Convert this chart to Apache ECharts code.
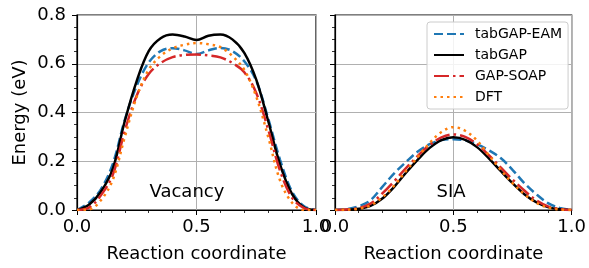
<!DOCTYPE html>
<html>
<head>
<meta charset="utf-8">
<script src="https://cdn.jsdelivr.net/npm/echarts@6/dist/echarts.min.js"></script>
<style>
  html, body { margin: 0; padding: 0; background: #fff; }
</style>
</head>
<body>
<div id="chart" style="width:589px;height:268px;"></div>
<script>
// reaction coordinate samples
var xs = [0, 0.05, 0.1, 0.15, 0.2, 0.25, 0.3, 0.35, 0.4, 0.45, 0.5,
          0.55, 0.6, 0.65, 0.7, 0.75, 0.8, 0.85, 0.9, 0.95, 1.0];

// vacancy migration (eV)
var vacEam  = [0, 0.03, 0.085, 0.19, 0.37, 0.51, 0.605, 0.652, 0.664, 0.655, 0.64,
               0.655, 0.665, 0.652, 0.61, 0.53, 0.375, 0.205, 0.075, 0.015, 0];
var vacTab  = [0, 0.022, 0.075, 0.17, 0.365, 0.53, 0.652, 0.705, 0.72, 0.712, 0.697,
               0.715, 0.72, 0.70, 0.645, 0.535, 0.365, 0.185, 0.065, 0.01, 0];
var vacSoap = [0, 0.01, 0.06, 0.145, 0.325, 0.47, 0.558, 0.603, 0.627, 0.636, 0.638,
               0.634, 0.626, 0.603, 0.565, 0.48, 0.33, 0.16, 0.05, 0.008, 0];
var vacDft  = [0, 0.002, 0.04, 0.125, 0.3, 0.465, 0.575, 0.632, 0.663, 0.678, 0.685,
               0.68, 0.668, 0.632, 0.575, 0.465, 0.3, 0.12, 0.03, 0.0, 0];

// SIA migration (eV)
var siaEam  = [0, 0.003, 0.015, 0.04, 0.095, 0.15, 0.197, 0.24, 0.27, 0.287, 0.29,
               0.285, 0.27, 0.245, 0.213, 0.165, 0.11, 0.065, 0.028, 0.008, 0];
var siaTab  = [0, 0.001, 0.005, 0.017, 0.047, 0.095, 0.153, 0.207, 0.255, 0.287, 0.298,
               0.288, 0.258, 0.212, 0.16, 0.11, 0.065, 0.032, 0.012, 0.003, 0];
var siaSoap = [0, 0.002, 0.008, 0.026, 0.068, 0.118, 0.172, 0.222, 0.267, 0.298, 0.31,
               0.3, 0.27, 0.225, 0.175, 0.125, 0.08, 0.04, 0.015, 0.004, 0];
var siaDft  = [0, 0.001, 0.005, 0.019, 0.052, 0.1, 0.16, 0.218, 0.275, 0.32, 0.34,
               0.325, 0.285, 0.225, 0.165, 0.11, 0.065, 0.03, 0.01, 0.002, 0];

var names = ["tabGAP-EAM", "tabGAP", "GAP-SOAP", "DFT"];
var colors = ["#1f77b4", "#000000", "#d62728", "#ff7f0e"];
var dashes = [[9, 4], "solid", [15, 4, 2.5, 4], [2.5, 4]];

var font = "DejaVu Sans";

function pairs(arr) {
  return xs.map(function (x, i) { return [x, arr[i]]; });
}

function makeLine(k, arr, idx) {
  return {
    name: names[k],
    type: "line",
    xAxisIndex: idx,
    yAxisIndex: idx,
    data: pairs(arr),
    smooth: 0.35,
    symbol: "none",
    clip: true,
    lineStyle: { color: colors[k], width: 2.5, type: dashes[k] },
    itemStyle: { color: colors[k] },
    z: 3 + k
  };
}

function textMark(txt, x, y, idx) {
  return {
    type: "scatter",
    xAxisIndex: idx,
    yAxisIndex: idx,
    data: [[x, y]],
    symbolSize: 0,
    silent: true,
    itemStyle: { opacity: 1 },
    label: { show: true, position: "inside", formatter: txt, color: "#000", opacity: 1, fontFamily: font, fontSize: 18 },
    z: 10
  };
}

function xAx(idx) {
  return {
    type: "value", gridIndex: idx, min: 0, max: 1, interval: 0.5,
    name: "Reaction coordinate", nameLocation: "middle", nameGap: 35,
    nameTextStyle: { color: "#000", fontFamily: font, fontSize: 18 },
    axisLine: { show: true, lineStyle: { color: "#000", width: 1.2 } },
    axisTick: { show: true, length: 5, lineStyle: { color: "#000", width: 1 } },
    minorTick: { show: true, splitNumber: 5, length: 3, lineStyle: { color: "#000", width: 0.8 } },
    axisLabel: { color: "#000", fontFamily: font, fontSize: 18, margin: 8,
                 formatter: function (v) { return v.toFixed(1); } },
    splitLine: { show: true, lineStyle: { color: "#b0b0b0", width: 1 } }
  };
}

function yAx(idx) {
  return {
    type: "value", gridIndex: idx, min: 0, max: 0.8, interval: 0.2,
    name: idx == 0 ? "Energy (eV)" : "", nameLocation: "middle", nameGap: 48,
    nameTextStyle: { color: "#000", fontFamily: font, fontSize: 18 },
    axisLine: { show: true, lineStyle: { color: "#000", width: 1.2 } },
    axisTick: { show: true, length: 5, lineStyle: { color: "#000", width: 1 } },
    minorTick: { show: true, splitNumber: 4, length: 3, lineStyle: { color: "#000", width: 0.8 } },
    axisLabel: { show: idx == 0, color: "#000", fontFamily: font, fontSize: 18, margin: 11,
                 formatter: function (v) { return v.toFixed(1); } },
    splitLine: { show: true, lineStyle: { color: "#b0b0b0", width: 1 } }
  };
}

var option = {
  animation: false,
  backgroundColor: "#fff",
  grid: [
    { left: 77, top: 15, width: 239, height: 197, show: true, borderColor: "#000", borderWidth: 1.2 },
    { left: 335, top: 15, width: 240, height: 197, show: true, borderColor: "#000", borderWidth: 1.2 }
  ],
  xAxis: [xAx(0), xAx(1)],
  yAxis: [yAx(0), yAx(1)],
  legend: {
    data: names,
    orient: "vertical",
    left: 427,
    top: 22,
    itemWidth: 30,
    itemHeight: 14,
    itemGap: 7,
    padding: [5, 6, 5, 6],
    backgroundColor: "rgba(255,255,255,0.85)",
    borderColor: "#cccccc",
    borderWidth: 1,
    borderRadius: 3,
    itemStyle: { opacity: 0 },
    textStyle: { color: "#000", fontFamily: font, fontSize: 14, padding: [0, 0, 0, 6] }
  },
  series: [
    makeLine(0, vacEam, 0), makeLine(1, vacTab, 0), makeLine(2, vacSoap, 0), makeLine(3, vacDft, 0),
    makeLine(0, siaEam, 1), makeLine(1, siaTab, 1), makeLine(2, siaSoap, 1), makeLine(3, siaDft, 1),
    textMark("Vacancy", 0.46, 0.073, 0),
    textMark("SIA", 0.49, 0.073, 1)
  ]
};

var chart = echarts.init(document.getElementById("chart"));
chart.setOption(option);
</script>
</body>
</html>
